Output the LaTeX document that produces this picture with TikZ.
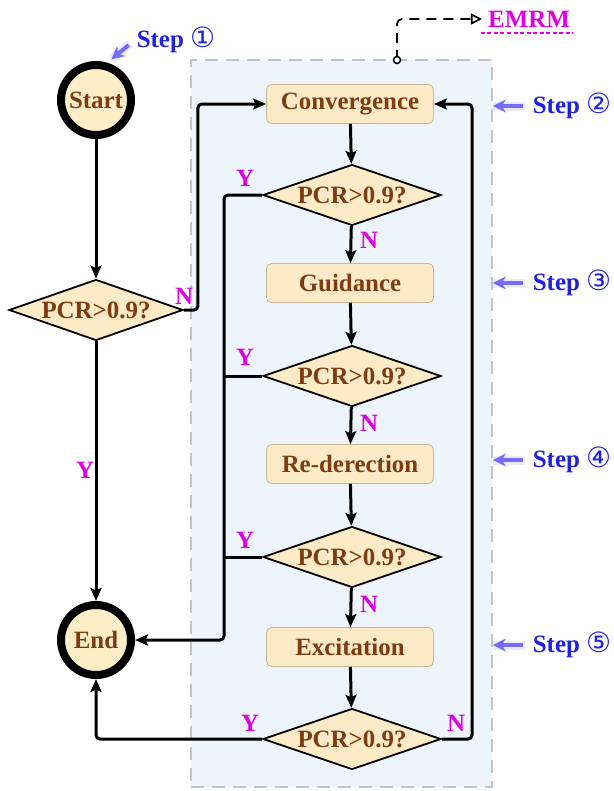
\documentclass[tikz,border=0pt]{standalone}
\usepackage{fontspec}
\setmainfont{Liberation Serif}
\newfontfamily\symfont[BoldFont={DejaVu Sans}]{DejaVu Sans}
\usetikzlibrary{shapes.geometric,arrows.meta}
\definecolor{brn}{RGB}{125,60,20}
\definecolor{cream}{RGB}{253,238,200}
\definecolor{boxfill}{RGB}{252,235,198}
\definecolor{boxline}{RGB}{200,182,145}
\definecolor{panelfill}{RGB}{238,244,251}
\definecolor{panelline}{RGB}{196,196,196}
\definecolor{mag}{RGB}{225,0,225}
\definecolor{stepblue}{RGB}{32,32,225}
\definecolor{arrblue}{RGB}{115,110,245}
\newcommand{\stepnum}[1]{{\fontsize{28}{28}\selectfont\symfont #1}}
\begin{document}
\begin{tikzpicture}[x=1bp,y=-1bp,
  font=\fontsize{25}{28}\selectfont\bfseries,
  flow/.style={line width=3bp,-{Stealth[length=13bp,width=11bp,inset=2.5bp]},rounded corners=4bp},
  plain/.style={line width=3bp,rounded corners=4bp},
  term/.style={circle,draw=black,line width=8bp,fill=cream,minimum size=70bp,inner sep=0pt,text=brn},
  proc/.style={rectangle,rounded corners=5bp,draw=boxline,line width=0.8bp,fill=boxfill,minimum width=167bp,minimum height=39bp,inner sep=0pt,text=brn},
  dec/.style={diamond,draw=black,line width=1.8bp,fill=boxfill,minimum width=178bp,minimum height=61bp,inner sep=0pt,text=brn},
  yn/.style={text=mag,inner sep=0pt},
  steplab/.style={text=stepblue,inner sep=2bp},
  panelbox/.style={draw=panelline,fill=panelfill,line width=1.8bp,dash pattern=on 13bp off 8bp},
  steparrow/.style={draw=arrblue,line width=4bp,-{Stealth[length=13bp,width=13bp]},
     preaction={draw=arrblue!25,line width=9bp,opacity=0.6,-,shorten <=-2bp}},
  emdash/.style={line width=1.7bp,dash pattern=on 10bp off 7bp,rounded corners=5bp,-{Triangle[open,length=11bp,width=11bp,fill=white]}}
]
\useasboundingbox (0,0) rectangle (614,791);

% panel
\node[panelbox,minimum width=301bp,minimum height=727bp,inner sep=0pt] (panel) at (341.5,423.5) {};

% nodes
\node[term] (start) at (96,100) {Start};
\node[term] (end) at (96,640) {End};
\node[dec,minimum width=174bp] (d0) at (96,310) {\makebox[0pt]{PCR>0.9?}};
\node[proc] (conv) at (350,104) {Convergence};
\node[dec] (d1) at (352,195) {\makebox[0pt]{PCR>0.9?}};
\node[proc] (guid) at (350,283) {Guidance};
\node[dec] (d2) at (352,376) {\makebox[0pt]{PCR>0.9?}};
\node[proc] (rede) at (350,464) {Re-derection};
\node[dec] (d3) at (352,557) {\makebox[0pt]{PCR>0.9?}};
\node[proc] (exci) at (350,647) {Excitation};
\node[dec] (d4) at (352,739) {\makebox[0pt]{PCR>0.9?}};

\coordinate (ybus) at (224,0);
\coordinate (rbus) at (472,0);
\coordinate (tap) at (397,60);

% connectors
\draw[flow] (start) -- (d0);
\draw[flow] (d0) -- (end);
\draw[flow] (d0.east) -- ++(14,0) |- (conv.west);
\draw[flow] (conv) -- (d1);
\draw[flow] (d1) -- (guid);
\draw[flow] (guid) -- (d2);
\draw[flow] (d2) -- (rede);
\draw[flow] (rede) -- (d3);
\draw[flow] (d3) -- (exci);
\draw[flow] (exci) -- (d4);
\draw[flow] (d1.west) -- (d1.west -| ybus) |- (end.east);
\draw[plain] (d2.west) -- (d2.west -| ybus);
\draw[plain] (d3.west) -- (d3.west -| ybus);
\draw[flow] (d4.west) -| (end.south);
\draw[flow] (d4.east) -- (d4.east -| rbus) |- (conv.east);

% Y / N labels
\node[yn] (yl0) at (85,470) {Y};
\node[yn] (nl0) at (184,296) {N};
\node[yn] (yl1) at (245,178) {Y};
\node[yn] (yl2) at (245,357) {Y};
\node[yn] (yl3) at (245,540) {Y};
\node[yn] (yl4) at (250,723) {Y};
\node[yn] (nl1) at (369,240) {N};
\node[yn] (nl2) at (369,423) {N};
\node[yn] (nl3) at (369,604) {N};
\node[yn] (nl4) at (456,723) {N};

% EMRM
\node[text=mag,inner sep=0pt] (emrm) at (529,19) {EMRM};
\draw[mag,line width=1.8bp,dash pattern=on 4bp off 2.5bp] ([shift={(-7,6)}]emrm.base west) -- ([shift={(3,6)}]emrm.base east);
\draw[emdash] (tap) |- ([xshift=-6bp]emrm.west);
\draw[line width=1.5bp,fill=white] (tap) circle (3.5);

% steps
\node[steplab] (s1) at (176,40) {Step \stepnum{①}};
\node[steplab] (s2) at (572,106) {Step \stepnum{②}};
\node[steplab] (s3) at (572,283) {Step \stepnum{③}};
\node[steplab] (s4) at (572,460) {Step \stepnum{④}};
\node[steplab] (s5) at (572,645) {Step \stepnum{⑤}};
\draw[steparrow] ([shift={(-6,5)}]s1.west) -- ([shift={(2,-4)}]start.70);
\draw[steparrow] ([xshift=-8bp]s2.west) -- (s2.west -| panel.east);
\draw[steparrow] ([xshift=-8bp]s3.west) -- (s3.west -| panel.east);
\draw[steparrow] ([xshift=-8bp]s4.west) -- (s4.west -| panel.east);
\draw[steparrow] ([xshift=-8bp]s5.west) -- (s5.west -| panel.east);
\end{tikzpicture}
\end{document}
